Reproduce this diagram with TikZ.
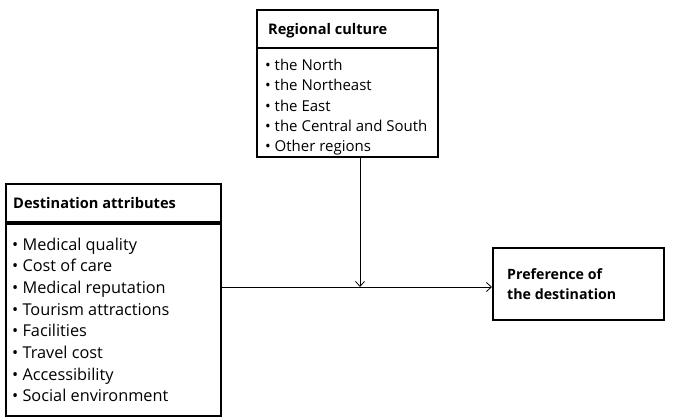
\documentclass[tikz,border=0pt]{standalone}
\usepackage{fontspec}
\setmainfont{Open Sans}
\usetikzlibrary{arrows.meta}
\begin{document}
\begin{tikzpicture}[x=1pt,y=-1pt,
  boxline/.style={draw=black,line width=1.6pt,anchor=north west,inner sep=0pt},
  hdr/.style={font=\bfseries\fontsize{14.6}{18}\selectfont,anchor=base west,inner sep=0pt},
  itemA/.style={font=\fontsize{15}{18}\selectfont,anchor=base west,inner sep=0pt},
  itemB/.style={font=\fontsize{16.3}{20}\selectfont,anchor=base west,inner sep=0pt},
  conn/.style={line width=0.8pt,-{Straight Barb[length=5pt,width=9pt]}}]
\useasboundingbox (0,0) rectangle (683,420);
% Regional culture
\node[boxline,minimum width=181pt,minimum height=38pt] (rch) at (256,9) {};
\node[boxline,minimum width=181pt,minimum height=109pt] (rcb) at (256,47) {};
\node[hdr] (rct) at (268,35) {Regional culture};
\foreach \t [count=\i] in {the North,the Northeast,the East,the Central and South,Other regions}
  \node[itemA] (rci\i) at (265,{70.7+20.25*(\i-1)}) {• \t};
% Destination attributes
\node[boxline,minimum width=215pt,minimum height=38pt] (dah) at (5,183) {};
\node[boxline,minimum width=215pt,minimum height=192pt] (dab) at (5,223) {};
\node[hdr] (dat) at (13,208.3) {Destination attributes};
\foreach \t [count=\i] in {Medical quality,Cost of care,Medical reputation,Tourism attractions,Facilities,Travel cost,Accessibility,Social environment}
  \node[itemB] (dai\i) at (12,{250+21.67*(\i-1)}) {• \t};
% Preference
\node[boxline,minimum width=171pt,minimum height=72pt] (pd) at (492,247) {};
\node[hdr,font=\bfseries\fontsize{14.2}{18}\selectfont] (pdt1) at (507,279.3) {Preference of};
\node[hdr,font=\bfseries\fontsize{14.2}{18}\selectfont] (pdt2) at (507,299.3) {the destination};
% connectors
\coordinate (m) at (360,287);
\draw[conn] (dab.east |- m) -- (pd.west |- m);
\draw[conn] (rcb.south -| m) -- (m);
\end{tikzpicture}
\end{document}
